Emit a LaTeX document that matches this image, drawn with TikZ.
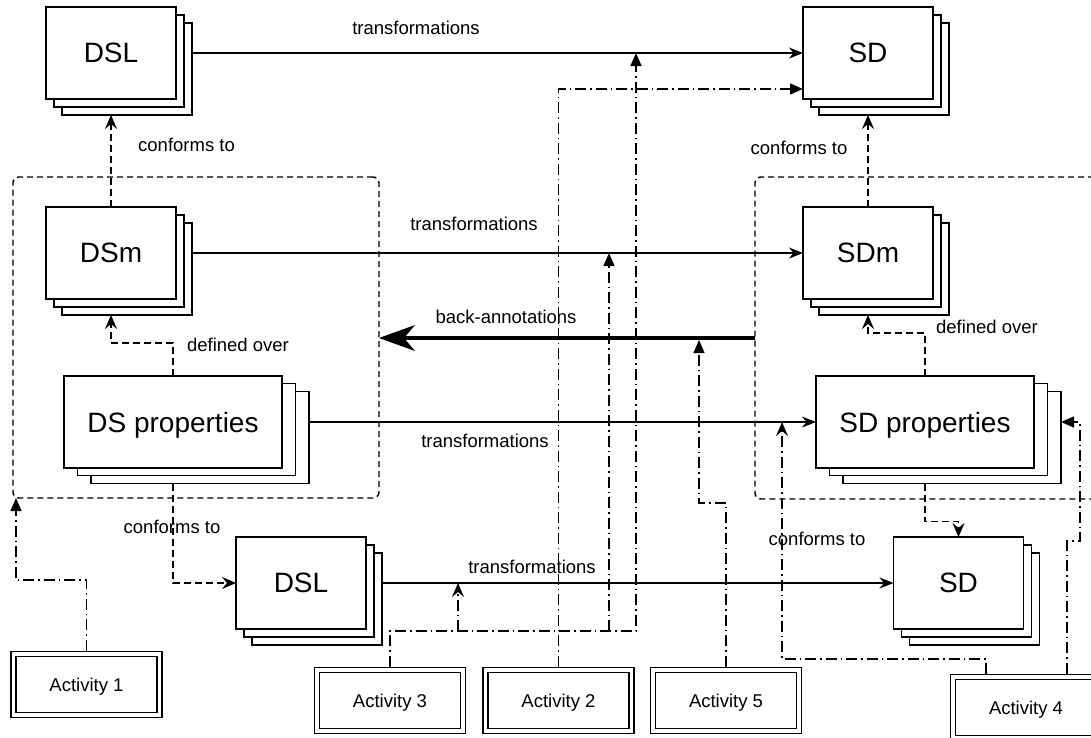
\documentclass[tikz,border=0pt]{standalone}
\usepackage{fontspec}
\setmainfont{Liberation Sans}
\usetikzlibrary{arrows.meta,shadows}
\begin{document}
\begin{tikzpicture}[x=1pt,y=-1pt,
  every node/.style={outer sep=0pt},
  basebox/.style={draw, fill=white, line width=1.4pt, inner sep=0pt, minimum height=92pt, text depth=0pt, font=\fontsize{28}{32}\selectfont},
  stackbox/.style={basebox, minimum width=130pt,
     copy shadow={shadow xshift=16pt, shadow yshift=-16pt, draw=black, fill=white, line width=1.4pt},
     copy shadow={shadow xshift=8pt, shadow yshift=-8pt, draw=black, fill=white, line width=1.4pt}},
  propbox/.style={basebox, minimum width=218pt,
     copy shadow={shadow xshift=27pt, shadow yshift=-15.5pt, draw=black, fill=white, line width=1.4pt},
     copy shadow={shadow xshift=13.5pt, shadow yshift=-7.75pt, draw=black, fill=white, line width=1.4pt}},
  actbox/.style={draw, double, double distance=3.6pt, line width=1.4pt, minimum width=146pt, minimum height=61pt, inner sep=0pt, outer sep=3.2pt, text depth=0pt, font=\fontsize{18.5}{22}\selectfont},
  groupbox/.style={draw, line width=1.4pt, dash pattern=on 6pt off 4pt, rounded corners=6pt, inner sep=0pt},
  lbl/.style={inner sep=0pt, font=\fontsize{18.5}{22}\selectfont},
  conn/.style={line width=1.4pt},
  trans/.style={conn, -{Stealth[length=14pt,width=11pt,inset=4.5pt]}},
  opn/.style={-{Stealth[length=14pt,width=12pt,inset=5pt]}},
  dashconn/.style={conn, dash pattern=on 7pt off 4pt, opn},
  actconn/.style={conn, dash pattern=on 11pt off 4pt on 1.5pt off 4pt},
  blk/.style={-{Triangle[length=13pt,width=11pt]}},
]
\useasboundingbox (0,0) rectangle (1091,737);
\clip (0,0) rectangle (1091,737);

% groups
\node[groupbox, minimum width=366pt, minimum height=321pt] (gDS) at (196,337.5) {};
\node[groupbox, minimum width=345pt, minimum height=322pt] (gSD) at (927.5,338) {};

% stacked boxes
\node[stackbox] (dslT) at (111,53) {DSL};
\node[stackbox] (sdT) at (868,53) {SD};
\node[stackbox] (dsm) at (111,253) {DSm};
\node[stackbox] (sdm) at (868,253) {SDm};
\node[propbox] (dsp) at (173,422) {DS properties};
\node[propbox] (sdp) at (925,422) {SD properties};
\node[stackbox] (dslB) at (301,583) {DSL};
\node[stackbox] (sdB) at (958.5,583) {SD};

% activities
\node[actbox] (A1) at (86.5,684.5) {Activity 1};
\node[actbox] (A3) at (390,700.5) {Activity 3};
\node[actbox] (A2) at (558.5,700.5) {Activity 2};
\node[actbox] (A5) at (726,700.5) {Activity 5};
\node[actbox] (A4) at (1026,707.5) {Activity 4};

% labels
\node[lbl] (l1) at (416,28) {transformations};
\node[lbl] (l2) at (186.5,145) {conforms to};
\node[lbl] (l3) at (799,148) {conforms to};
\node[lbl] (l4) at (474,224) {transformations};
\node[lbl] (l5) at (506,317) {back-annotations};
\node[lbl] (l6) at (238,345) {defined over};
\node[lbl] (l7) at (987,327) {defined over};
\node[lbl] (l8) at (485,441) {transformations};
\node[lbl] (l9) at (172,527) {conforms to};
\node[lbl] (l10) at (532,567) {transformations};
\node[lbl] (l11) at (817,539) {conforms to};

% waypoints
\coordinate (a1k) at (16,580);
\coordinate (a3k) at (636,631);
\coordinate (a3m) at (609,631);
\coordinate (a3s) at (458,631);
\coordinate (a2k) at (558.5,89);
\coordinate (a5k) at (699,503);
\coordinate (a4k) at (782,659);
\coordinate (a4m) at (1080,541);

% transformations
\draw[trans] ([xshift=16pt]dslT.east) -- (sdT.west);
\draw[trans] ([xshift=16pt]dsm.east) -- (sdm.west);
\draw[trans] ([xshift=27pt]dsp.east) -- (sdp.west);
\draw[trans] ([xshift=16pt]dslB.east) -- (sdB.west);

% conforms to / defined over
\draw[dashconn] (dsm.north) -- ([yshift=-16pt]dslT.south);
\draw[dashconn] (sdm.north) -- ([yshift=-16pt]sdT.south);
\draw[dashconn] (dsp.north) -- ++(0,-33) -| ([yshift=-16pt]dsm.south);
\draw[dashconn] (sdp.north) -- ++(0,-43) -| ([yshift=-16pt]sdm.south);
\draw[dashconn] ([yshift=-15.5pt]dsp.south) |- (dslB.west);
\draw[dashconn] ([yshift=-15.5pt]sdp.south) -- ++(0,38) -| (sdB.north);

% activity links
\draw[actconn, blk] (A1.north) |- (a1k) -- (a1k |- gDS.south);
\draw[actconn, blk] (A3.north) |- (a3k) -- (a3k |- sdT.west);
\draw[actconn, blk] (a3m) -- (a3m |- sdm.west);
\draw[actconn, opn] (a3s) -- (a3s |- dslB.east);
\draw[actconn, blk] (A2.north) -- (a2k) -- (a2k -| sdT.west);
\draw[actconn, blk] (A5.north) |- (a5k) -- ([yshift=-2pt]a5k |- gSD.west);
\draw[actconn, opn] ([xshift=-40pt]A4.north) |- (a4k) -- (a4k |- sdp.west);
\draw[actconn, blk] ([xshift=41pt]A4.north) |- (a4m) -- (a4m |- sdp.east) -- ([xshift=27pt]sdp.east);

% back-annotations
\draw[line width=4pt, -{Stealth[length=36pt,width=26pt,inset=11pt,line width=0pt]}] (gSD.west) -- (gSD.west -| gDS.east);
\end{tikzpicture}
\end{document}
